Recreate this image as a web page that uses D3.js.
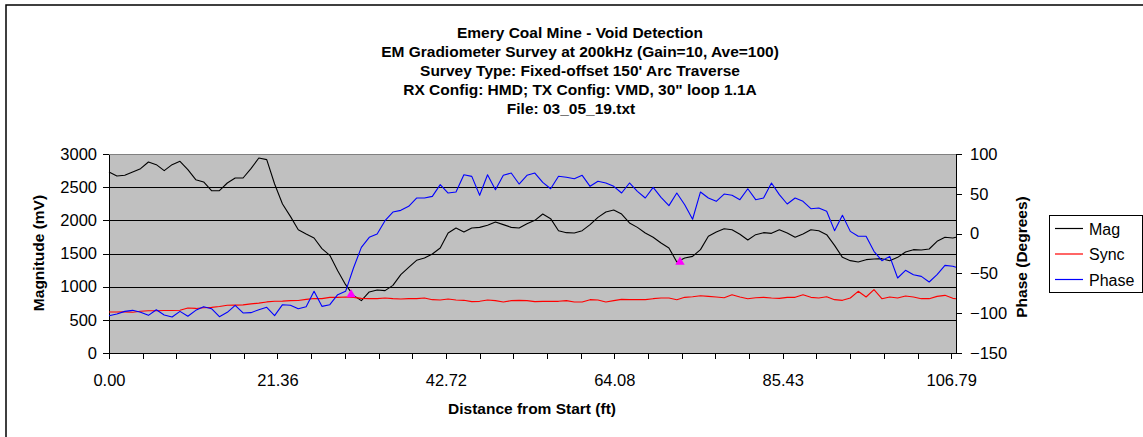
<!DOCTYPE html>
<html>
<head>
<meta charset="utf-8">
<script src="https://cdn.jsdelivr.net/npm/d3@7"></script>
<style>
  body { margin: 0; background: #fff; }
  text { font-family: "Liberation Sans", Arial, sans-serif; fill: #000; }
</style>
</head>
<body>
<svg id="chart" width="1143" height="437"></svg>
<script>
var titleLines = [
  "Emery Coal Mine - Void Detection",
  "EM Gradiometer Survey at 200kHz (Gain=10, Ave=100)",
  "Survey Type: Fixed-offset 150' Arc Traverse",
  "RX Config: HMD; TX Config: VMD, 30\" loop 1.1A",
  "File: 03_05_19.txt"
];

// distance from start (ft)
var distance = [0, 1, 2, 3, 4, 5, 6, 7, 8, 9, 10, 11, 12, 13, 14, 15, 16, 17, 18, 19,
  20, 21, 22, 23, 24, 25, 26, 27, 28, 29, 30, 31, 32, 33, 34, 35, 36, 37, 38, 39,
  40, 41, 42, 43, 44, 45, 46, 47, 48, 49, 50, 51, 52, 53, 54, 55, 56, 57, 58, 59,
  60, 61, 62, 63, 64, 65, 66, 67, 68, 69, 70, 71, 72, 73, 74, 75, 76, 77, 78, 79,
  80, 81, 82, 83, 84, 85, 86, 87, 88, 89, 90, 91, 92, 93, 94, 95, 96, 97, 98, 99,
  100, 101, 102, 103, 104, 105, 106, 107, 107.4];

// magnitude (mV)
var mag = [2729, 2668, 2680, 2729, 2779, 2879, 2839, 2749, 2839, 2889, 2764, 2613, 2578, 2447, 2447, 2563, 2638, 2638, 2779, 2940,
  2915, 2548, 2246, 2060, 1859, 1794, 1734, 1573, 1472, 1241, 1030, 869, 789, 920, 950, 940, 1020, 1181, 1291, 1397,
  1432, 1492, 1583, 1809, 1884, 1824, 1884, 1894, 1925, 1975, 1935, 1894, 1884, 1950, 2000, 2095, 2025, 1844, 1814, 1809,
  1844, 1935, 2045, 2126, 2156, 2095, 1960, 1894, 1809, 1744, 1658, 1583, 1372, 1432, 1457, 1558, 1759, 1824, 1874, 1859,
  1790, 1703, 1784, 1814, 1804, 1859, 1809, 1744, 1794, 1859, 1844, 1784, 1623, 1442, 1392, 1372, 1407, 1417, 1422, 1392,
  1442, 1523, 1558, 1553, 1568, 1683, 1744, 1734, 1744];

// sync (mV)
var sync = [618, 618, 620, 615, 630, 638, 638, 640, 640, 645, 678, 672, 683, 688, 700, 719, 722, 725, 740, 752,
  770, 780, 782, 790, 792, 808, 822, 820, 839, 839, 844, 839, 824, 819, 819, 829, 819, 814, 819, 819,
  829, 804, 799, 814, 799, 794, 774, 779, 799, 789, 769, 789, 794, 789, 774, 779, 779, 779, 789, 769,
  769, 804, 799, 769, 789, 809, 804, 804, 804, 819, 829, 829, 804, 839, 849, 864, 854, 844, 834, 879,
  844, 819, 834, 839, 829, 824, 839, 839, 879, 839, 829, 849, 804, 794, 829, 930, 844, 955, 819, 844,
  829, 859, 844, 819, 819, 854, 869, 824, 819];

// phase (degrees)
var phase = [-103.1, -101, -97.7, -96.4, -98.9, -102.7, -95.6, -102.3, -104.8, -97.7, -103.9, -96.4, -91.8, -94.3, -104.4, -98.9, -90.1, -99.7, -99.3, -95.6,
  -92.6, -103.1, -89.3, -90.1, -94.3, -91.8, -72.5, -91.4, -89.3, -76.7, -72.5, -43.2, -17.3, -4.7, -0.5, 16.2, 27.1, 29.2, 34.3, 44.7,
  44.7, 46.8, 61.5, 51, 52.3, 74, 71.9, 48.1, 74, 55.2, 73.2, 76.1, 62.3, 73.2, 76.1, 64.4, 56.4, 72, 70.7, 69,
  73.2, 59.4, 65.7, 63.6, 59.4, 51, 63.6, 53.1, 44.7, 58.1, 45.6, 35.1, 51, 36.3, 18, 52.3, 44.7, 40.5, 49.7, 48.1,
  42.6, 56.4, 42.6, 44.7, 63.6, 48.9, 37.2, 44.7, 40.5, 31.3, 32.2, 28, 3.7, 23, 2.8, -3.4, -3.4, -22.3, -34, -28.6,
  -55.8, -46.1, -51.6, -53.7, -60.8, -51.6, -39.9, -41.1, -42.4];

// picked void anomalies (magenta markers)
var pickDistance = [30.7, 72.4];
var pickMag = [880, 1372];

var magTicks = [0, 500, 1000, 1500, 2000, 2500, 3000];
var phaseTicks = [-150, -100, -50, 0, 50, 100];
var xTickLabels = ["0.00", "21.36", "42.72", "64.08", "85.43", "106.79"];
var xMaxLabel = 106.79;

var seriesNames = ["Mag", "Sync", "Phase"];
var seriesColors = ["#000000", "#ff0000", "#0000ff"];

var plot = { left: 109, right: 956, top: 154, bottom: 353 };

var svg = d3.select("#chart");

// outer chart border
svg.append("rect")
  .attr("x", 6).attr("y", 5)
  .attr("width", 1160).attr("height", 460)
  .attr("fill", "none")
  .attr("stroke", "#000")
  .attr("stroke-width", 1.5);

// titles
svg.selectAll(".title")
  .data(titleLines)
  .enter()
  .append("text")
  .attr("class", "title")
  .attr("x", (d, i) => i === 4 ? 571 : 580)
  .attr("y", (d, i) => 38 + i * 19)
  .attr("text-anchor", "middle")
  .style("font-size", "15.5px")
  .style("font-weight", "bold")
  .text(d => d);

// scales
var x = d3.scaleLinear().domain([0, 107.4]).range([plot.left, plot.right]);
var yMag = d3.scaleLinear().domain([0, 3000]).range([plot.bottom, plot.top]);
var yPhase = d3.scaleLinear().domain([-150, 100]).range([plot.bottom, plot.top]);

// plot background
svg.append("rect")
  .attr("x", plot.left).attr("y", plot.top)
  .attr("width", plot.right - plot.left)
  .attr("height", plot.bottom - plot.top)
  .attr("fill", "#c0c0c0")
  .attr("stroke", "#808080")
  .attr("stroke-width", 1)
  .attr("shape-rendering", "crispEdges");

// gridlines
svg.selectAll(".grid")
  .data(magTicks.filter(d => d > 0 && d < 3000))
  .enter()
  .append("line")
  .attr("x1", plot.left).attr("x2", plot.right)
  .attr("y1", d => Math.round(yMag(d)) + 0.5)
  .attr("y2", d => Math.round(yMag(d)) + 0.5)
  .attr("stroke", "#000")
  .attr("stroke-width", 1);

// axes
var leftAxis = d3.axisLeft(yMag).tickValues(magTicks).tickFormat(d3.format("d"))
  .tickSize(6).tickPadding(6).tickSizeOuter(0);
var rightAxis = d3.axisRight(yPhase).tickValues(phaseTicks).tickFormat(d3.format("d"))
  .tickSize(6).tickPadding(8).tickSizeOuter(0);
var xTickValues = d3.range(26).map(i => i * xMaxLabel / 25);
var bottomAxis = d3.axisBottom(x)
  .tickValues(xTickValues)
  .tickSize(6)
  .tickPadding(15)
  .tickSizeOuter(0)
  .tickFormat((d, i) => i % 5 === 0 ? xTickLabels[i / 5] : "");

function styleAxis(g) {
  g.selectAll("path").attr("stroke", "#000").attr("shape-rendering", "crispEdges");
  g.selectAll("line").attr("stroke", "#000").attr("shape-rendering", "crispEdges");
  g.selectAll("text").style("font-size", "16.5px").attr("fill", "#000");
  g.attr("font-family", null).attr("font-size", null);
}

svg.append("g")
  .attr("transform", `translate(${plot.left},0)`)
  .call(leftAxis)
  .call(styleAxis);

svg.append("g")
  .attr("transform", `translate(${plot.right},0)`)
  .call(rightAxis)
  .call(styleAxis);

svg.append("g")
  .attr("transform", `translate(0,${plot.bottom})`)
  .call(bottomAxis)
  .call(styleAxis);

// axis titles
svg.append("text")
  .attr("transform", "translate(44,253) rotate(-90)")
  .attr("text-anchor", "middle")
  .style("font-size", "15.5px")
  .style("font-weight", "bold")
  .text("Magnitude (mV)");

svg.append("text")
  .attr("transform", "translate(1027,257) rotate(-90)")
  .attr("text-anchor", "middle")
  .style("font-size", "15.5px")
  .style("font-weight", "bold")
  .text("Phase (Degrees)");

svg.append("text")
  .attr("x", 532)
  .attr("y", 414)
  .attr("text-anchor", "middle")
  .style("font-size", "15.5px")
  .style("font-weight", "bold")
  .text("Distance from Start (ft)");

// series lines
var idx = d3.range(distance.length);
var magLine = d3.line().x(i => x(distance[i])).y(i => yMag(mag[i]));
var syncLine = d3.line().x(i => x(distance[i])).y(i => yMag(sync[i]));
var phaseLine = d3.line().x(i => x(distance[i])).y(i => yPhase(phase[i]));

var chartGroup = svg.append("g");
[magLine, syncLine, phaseLine].forEach(function (gen, k) {
  chartGroup.append("path")
    .datum(idx)
    .attr("d", gen)
    .attr("fill", "none")
    .attr("stroke", seriesColors[k])
    .attr("stroke-width", 1.1)
    .attr("stroke-linejoin", "round");
});

// void pick markers
chartGroup.selectAll(".pick")
  .data(d3.range(pickDistance.length))
  .enter()
  .append("path")
  .attr("d", d3.symbol().type(d3.symbolTriangle).size(38))
  .attr("transform", i => `translate(${x(pickDistance[i])},${yMag(pickMag[i])})`)
  .attr("fill", "#ff00ff");

// legend
var legend = svg.append("g").attr("transform", "translate(1049,215)");
legend.append("rect")
  .attr("x", 0.5).attr("y", 0.5)
  .attr("width", 93).attr("height", 77)
  .attr("fill", "#fff")
  .attr("stroke", "#000")
  .attr("stroke-width", 1);

var items = legend.selectAll(".item")
  .data(seriesNames)
  .enter()
  .append("g")
  .attr("transform", (d, i) => `translate(0,${13.5 + i * 25.5})`);

items.append("line")
  .attr("x1", 6).attr("x2", 34)
  .attr("y1", 0).attr("y2", 0)
  .attr("stroke", (d, i) => seriesColors[i])
  .attr("stroke-width", 1.2);

items.append("text")
  .attr("x", 40)
  .attr("y", 6)
  .style("font-size", "16px")
  .text(d => d);
</script>
</body>
</html>
